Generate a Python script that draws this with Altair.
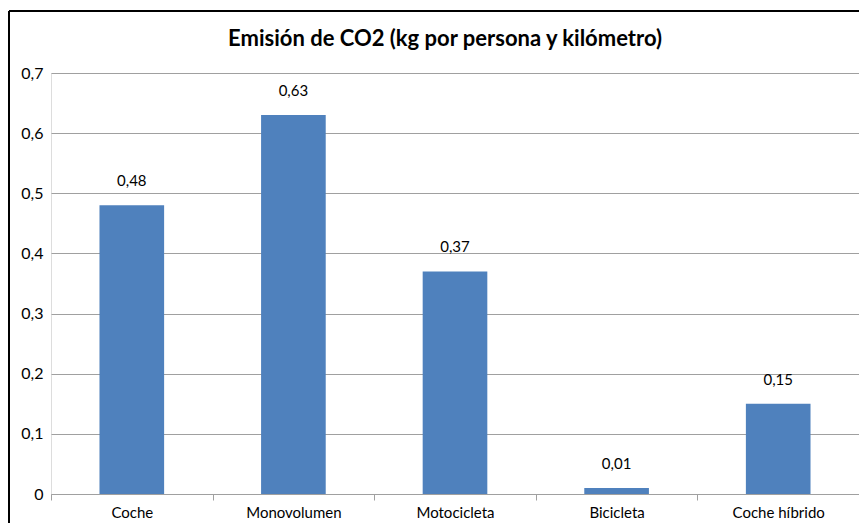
import altair as alt
import pandas as pd

categorias = ["Coche", "Monovolumen", "Motocicleta", "Bicicleta", "Coche híbrido"]
valores = [0.48, 0.63, 0.37, 0.01, 0.15]
y_ticks = [0, 0.1, 0.2, 0.3, 0.4, 0.5, 0.6, 0.7]
titulo = "Emisión de CO2 (kg por persona y kilómetro)"

df = pd.DataFrame({"categoria": categorias, "valor": valores})

FONT = "Lato"
GRID = "#A0A0A0"
BAR = "#4F81BD"

x_enc = alt.X(
    "categoria:N",
    sort=categorias,
    title=None,
    scale=alt.Scale(paddingInner=0, paddingOuter=0),
    axis=alt.Axis(
        labelAngle=0,
        tickBand="extent",
        tickSize=6,
        tickColor=GRID,
        domainColor=GRID,
        labelPadding=5,
        labelFont=FONT,
        labelFontSize=15,
        labelColor="#000000",
        grid=False,
    ),
)
y_enc = alt.Y(
    "valor:Q",
    title=None,
    scale=alt.Scale(domain=[0, 0.7], nice=False),
    axis=alt.Axis(
        values=y_ticks,
        labelExpr="datum.value == 0 ? '0' : replace(format(datum.value, '.1f'), '.', ',')",
        domain=False,
        ticks=False,
        grid=True,
        gridColor=GRID,
        labelPadding=8,
        labelFont=FONT,
        labelFontSize=16,
        labelColor="#000000",
    ),
)

base = alt.Chart(df)

bars = base.mark_bar(color=BAR, width=alt.RelativeBandSize(0.4)).encode(x=x_enc, y=y_enc)

labels = base.transform_calculate(
    etiqueta="replace(format(datum.valor, '.2f'), '.', ',')"
).mark_text(
    dy=-24, baseline="middle", font=FONT, fontSize=15, color="#000000"
).encode(
    x=alt.X("categoria:N", sort=categorias),
    y=alt.Y("valor:Q"),
    text="etiqueta:N",
)

border_data = alt.Data(values=[{"k": 1}])
left_border = alt.Chart(border_data).mark_rule(color="#000000", strokeWidth=2).encode(
    x=alt.value(-42), y=alt.value(-62), y2=alt.value(450)
)
top_border = alt.Chart(border_data).mark_rule(color="#000000", strokeWidth=2).encode(
    x=alt.value(-42), x2=alt.value(810), y=alt.value(-62)
)

chart = alt.layer(bars, labels, left_border, top_border).properties(
    width=808,
    height=421,
    autosize=alt.AutoSizeParams(type="none"),
    padding={"left": 43, "top": 65, "right": 0, "bottom": 29},
    title=alt.TitleParams(
        text=titulo,
        font=FONT,
        fontSize=22,
        fontWeight="bold",
        color="#000000",
        anchor="middle",
        frame="group",
        dx=-10,
        dy=41,
        offset=0,
    ),
).configure_view(stroke=None).configure(background="white")

chart.save("out.html", embed_options={"renderer": "svg", "actions": False})
